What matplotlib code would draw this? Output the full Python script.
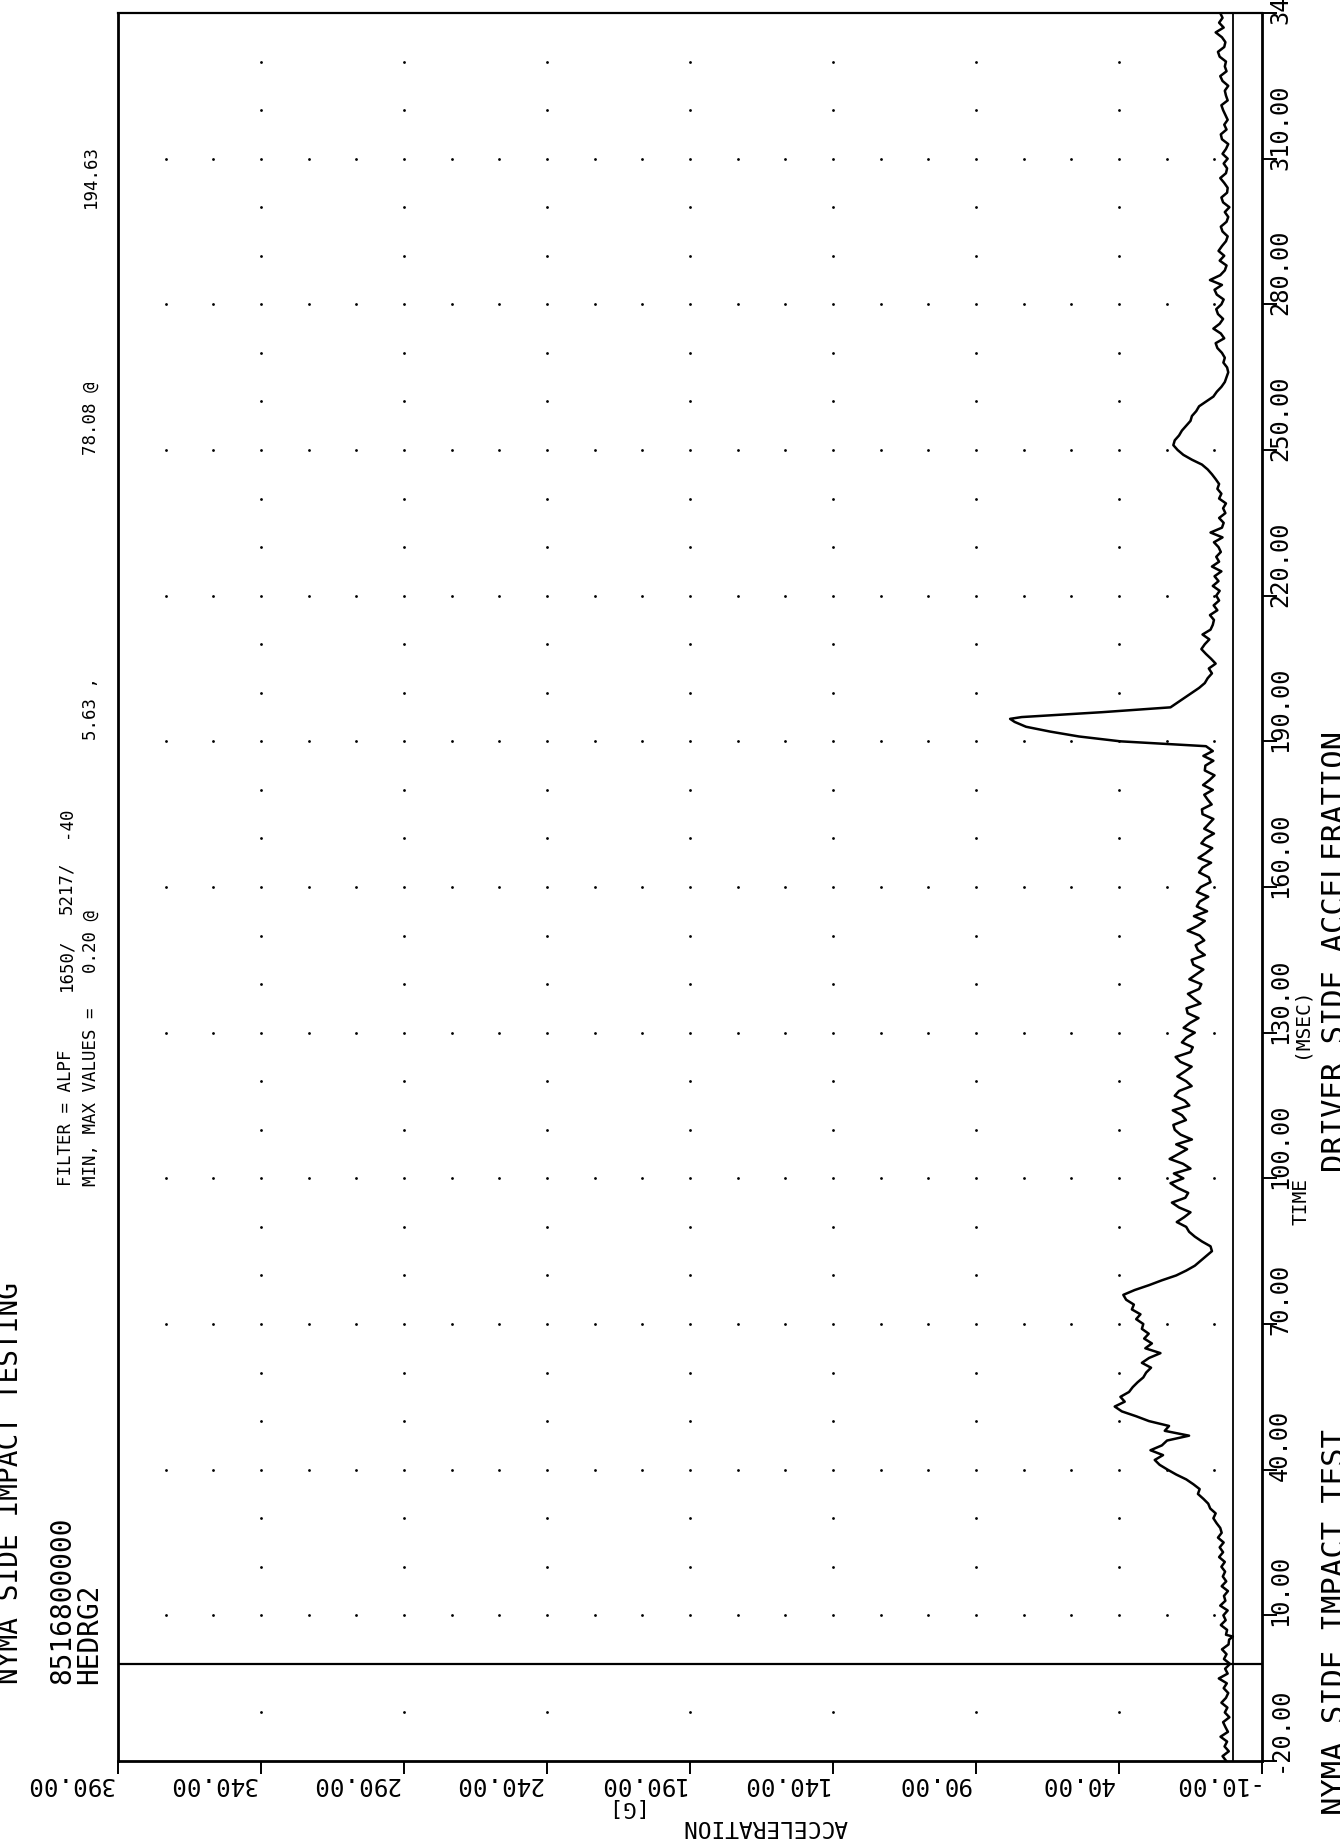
import numpy as np
import matplotlib.pyplot as plt
import matplotlib.transforms as mtransforms

# axis ticks: time in ms (runs up the page), acceleration in G (runs right to left)
time_ticks = [-20, 10, 40, 70, 100, 130, 160, 190, 220, 250, 280, 310, 340]
accel_ticks = [-10, 40, 90, 140, 190, 240, 290, 340, 390]

# filtered acceleration trace, one sample per ms starting at -20 ms
time_start = -20
accel_g = [
    2.5, 3.8, 1.6, 3.1, 2.2, 4.5, 1.9, 2.8, 3.6, 1.4,
    3.0, 2.1, 4.2, 2.6, 1.8, 3.4, 2.3, 5.1, 2.0, 2.9,
    1.2, 3.3, 2.4, 4.0, 1.7, 1.5, 2.6, 2.2, 4.4, 2.7,
    3.5, 2.0, 4.6, 2.8, 3.3, 1.9, 4.1, 2.5, 3.7, 2.9,
    4.2, 3.0, 5.0, 3.6, 4.8, 3.4, 5.4, 4.1, 4.6, 5.9,
    7.0, 6.2, 8.1, 8.8, 10.5, 12.4, 11.8, 14.0, 16.5, 20.0,
    23.0, 25.8, 27.5, 24.6, 29.0, 25.0, 23.2, 15.5, 24.0, 22.5,
    29.5, 34.0, 39.0, 41.5, 38.0, 39.5, 36.5, 35.2, 33.5, 31.5,
    30.5, 28.8, 32.0, 29.5, 25.5, 30.8, 28.5, 31.2, 29.6, 32.0,
    31.5, 34.0, 32.5, 35.5, 34.8, 37.5, 38.5, 34.5, 29.5, 25.0,
    20.0, 16.5, 13.5, 11.5, 9.5, 7.5, 8.0, 11.0, 13.5, 15.5,
    16.5, 19.8, 17.2, 15.0, 19.0, 21.5, 16.8, 15.8, 19.4, 22.0,
    17.5, 20.8, 15.0, 17.6, 22.3, 19.2, 16.2, 20.0, 14.5, 18.5,
    20.5, 21.0, 16.6, 18.0, 21.2, 15.4, 17.0, 20.5, 19.0, 14.6,
    16.5, 19.6, 17.0, 14.6, 18.6, 20.2, 15.0, 14.2, 18.0, 16.4,
    13.5, 17.4, 15.2, 12.2, 16.0, 16.4, 11.5, 13.8, 15.9, 12.0,
    11.2, 15.4, 13.0, 10.5, 14.0, 14.6, 10.0, 12.4, 13.2, 10.2,
    11.8, 16.0, 12.5, 10.0, 13.8, 9.2, 12.8, 11.8, 8.8, 12.8,
    11.4, 8.0, 8.6, 12.0, 10.8, 7.8, 12.2, 9.6, 7.4, 11.2,
    9.8, 6.8, 10.2, 8.6, 7.0, 10.8, 11.0, 7.6, 9.0, 10.2,
    7.2, 10.6, 8.4, 6.6, 10.0, 9.8, 7.0, 10.5, 7.2, 9.6,
    39.5, 54.0, 64.0, 72.5, 76.5, 74.0, 46.0, 22.0, 19.5, 17.0,
    14.5, 12.0, 10.0, 9.0, 7.5, 8.6, 6.2, 7.8, 9.6, 11.2,
    10.0, 8.4, 10.8, 8.0, 7.2, 6.8, 8.2, 5.6, 6.9, 5.0,
    6.0, 4.8, 7.2, 5.2, 6.6, 4.2, 7.5, 5.0, 6.0, 4.4,
    5.2, 6.8, 3.8, 8.0, 4.0, 3.4, 5.0, 2.8, 3.6, 2.6,
    5.0, 4.2, 5.6, 5.0, 6.2, 7.5, 9.0, 11.0, 14.5, 17.5,
    19.5, 21.0, 20.5, 19.0, 18.0, 16.5, 15.0, 14.5, 13.0, 12.0,
    9.5, 7.0, 5.8, 4.2, 3.0, 2.4, 1.8, 2.2, 3.5, 3.0,
    4.0, 5.6, 6.2, 3.2, 4.4, 7.0, 4.8, 3.6, 5.4, 6.0,
    4.2, 3.4, 5.8, 6.6, 4.0, 8.2, 4.6, 3.0, 2.4, 4.8,
    3.2, 5.2, 4.0, 2.6, 2.0, 3.8, 4.4, 2.4, 1.8, 3.0,
    1.4, 3.6, 4.2, 2.2, 2.0, 3.2, 4.6, 2.6, 2.2, 3.4,
    2.0, 3.8, 2.6, 1.8, 4.0, 4.4, 2.4, 3.2, 2.0, 2.8,
    3.6, 4.2, 2.0, 2.6, 3.0, 1.8, 3.8, 4.6, 2.4, 3.0,
    2.6, 4.8, 5.4, 3.2, 2.8, 4.0, 6.2, 3.4, 5.0, 3.8,
    4.6,
]

# extremes reported in the header (value @ time)
min_t, min_g = 5.63, 0.20
max_t, max_g = 194.63, 78.08

# header lines
title_lines = ["NYMA SIDE IMPACT TESTING", "8516800000", "HEDRG2"]
filter_parts = ["FILTER = ALPF", "1650/", "5217/", "-40"]
footer_parts = ["NYMA SIDE IMPACT TEST", "DRIVER SIDE ACCELERATION"]

W, H = 1340, 1839
DPI = 100


def fpos(x, y):
    # pixel position (from top-left) -> figure fraction
    return x / W, 1 - y / H


def vtext(x, y, s, size, rot=90):
    fig.text(*fpos(x, y), s, rotation=rot, rotation_mode='anchor',
             ha='left', va='center', fontsize=size, **mono)


mono = dict(family='DejaVu Sans Mono', color='black')

fig = plt.figure(figsize=(W / DPI, H / DPI), dpi=DPI)
fig.patch.set_facecolor('white')

left, right, top, bottom = 118, 1262, 13, 1761
ax = fig.add_axes([left / W, 1 - bottom / H, (right - left) / W, (bottom - top) / H])
ax.set_xlim(390, -10)
ax.set_ylim(-20, 340)
for sp in ax.spines.values():
    sp.set_linewidth(2.0)
ax.spines['top'].set_linewidth(1.6)

ax.set_xticks(accel_ticks)
ax.set_yticks(time_ticks)
ax.yaxis.set_ticks_position('right')
ax.xaxis.set_ticks_position('bottom')
ax.tick_params(axis='y', direction='out', length=11, width=1.4, labelright=False)
ax.tick_params(axis='x', direction='out', length=9, width=1.4, labelbottom=False)

# dotted grid: fine rows on the major time ticks, sparse rows every 10 ms
fine_cols = np.linspace(-10, 390, 25)[1:-1]
major_cols = np.array(accel_ticks[1:-1])
for t in range(-10, 340, 10):
    if t == 0:
        continue
    cols = fine_cols if t in time_ticks else major_cols
    ax.plot(cols, np.full(len(cols), t), ls='none', marker='o', ms=2.0,
            mfc='black', mec='black', mew=0)

# zero acceleration line and t = 0 marker
ax.axvline(0, color='black', lw=1.3)
ax.axhline(0, color='black', lw=1.6)

# trace, with the reported min / max samples merged in
t_all = np.append(np.arange(len(accel_g)) + time_start, [min_t, max_t])
g_all = np.append(np.array(accel_g), [min_g, max_g])
order = np.argsort(t_all)
ax.plot(g_all[order], t_all[order], color='black', lw=1.8)

# time tick labels, reading upward, starting just below each tick
ttrans = (mtransforms.blended_transform_factory(fig.transFigure, ax.transData)
          + mtransforms.ScaledTranslation(0, -11 / DPI, fig.dpi_scale_trans))
for t in time_ticks:
    ax.text(1280 / W, t, f"{t:.2f}", transform=ttrans, rotation=90,
            rotation_mode='anchor', ha='left', va='center', fontsize=17, **mono)

# acceleration tick labels, upside down
atrans = (mtransforms.blended_transform_factory(ax.transData, fig.transFigure)
          + mtransforms.ScaledTranslation(-5 / DPI, 0, fig.dpi_scale_trans))
for a in accel_ticks:
    ax.text(a, 1 - 1784 / H, f"{a:.2f}", transform=atrans, rotation=180,
            rotation_mode='anchor', ha='left', va='center', fontsize=17.5, **mono)

# axis titles
vtext(1301, 1225, "TIME", 14)
vtext(1301, 1058, "(MSEC)", 14)
vtext(640, 1807, "[G]", 16, rot=180)
vtext(848, 1826, "ACCELERATION", 16.5, rot=180)

# header block on the left edge
for x, s in zip([10, 62, 89], title_lines):
    vtext(x, 1684, s, 20)

for y, s in zip([1186, 991, 914, 838], filter_parts):
    vtext(66, y, s, 12.5)

min_max_parts = [
    (1186, "MIN, MAX VALUES ="),
    (973, f"{min_g:.2f} @"),
    (740, f"{min_t:.2f} ,"),
    (455, f"{max_g:.2f} @"),
    (208, f"{max_t:.2f}"),
]
for y, s in min_max_parts:
    vtext(91, y, s, 12.5)

# footer line cut by the right edge
for y, s in zip([1815, 1172], footer_parts):
    vtext(1336, y, s, 22)

fig.savefig('out.png', dpi=DPI, facecolor='white')
